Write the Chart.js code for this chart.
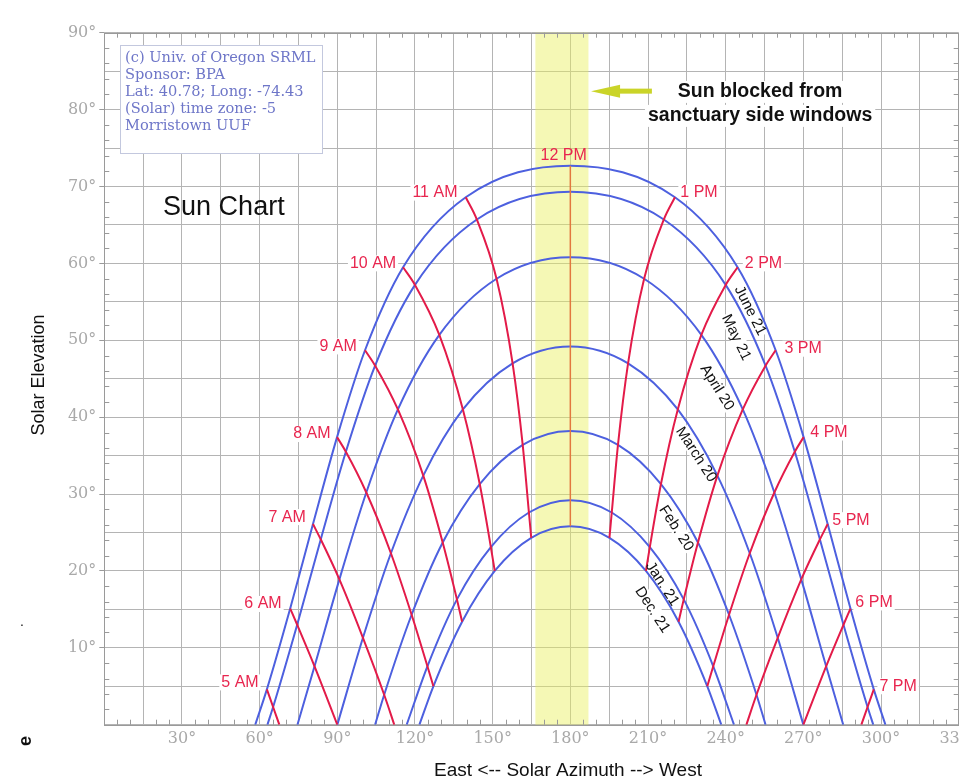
<!DOCTYPE html>
<html>
<head>
<meta charset="utf-8">
<script src="https://cdn.jsdelivr.net/npm/chart.js@4.4.1/dist/chart.umd.min.js"></script>
<style>
html,body{margin:0;padding:0;background:#fff;overflow:hidden;}
#wrap{width:959px;height:783px;overflow:hidden;position:relative;background:#fff;}
canvas{display:block;}
</style>
</head>
<body>
<div id="wrap"><canvas id="c" width="1000" height="783"></canvas></div>
<script>
// ---------- categories ----------
const dateNames = ['June 21','May 21','April 20','March 20','Feb. 20','Jan. 21','Dec. 21'];
const hourNames = ['5 AM','6 AM','7 AM','8 AM','9 AM','10 AM','11 AM','12 PM','1 PM','2 PM','3 PM','4 PM','5 PM','6 PM','7 PM'];

// ---------- tick labels ----------
const xTickValues = [30,60,90,120,150,180,210,240,270,300,330];
const yTickValues = [10,20,30,40,50,60,70,80,90];

// ---------- sun positions (azimuth / elevation, degrees) ----------
// one entry per hour 5 AM .. 7 PM, null = sun below horizon
const june21Az = [62.8,71.8,80.6,89.9,100.7,115.4,139.6,180,220.4,244.6,259.3,270.1,279.4,288.2,297.2];
const june21El = [4.6,15.1,26.1,37.4,48.7,59.5,68.6,72.7,68.6,59.5,48.7,37.4,26.1,15.1,4.6];
const may21Az  = [65.2,74.5,83.6,93.3,104.6,120.0,143.9,180,216.1,240.0,255.4,266.7,276.4,285.5,294.8];
const may21El  = [2.3,13.0,24.1,35.5,46.7,57.2,65.7,69.3,65.7,57.2,46.7,35.5,24.1,13.0,2.3];
const apr20Az  = [null,81.2,90.8,101.2,113.4,129.4,151.5,180,208.5,230.6,246.6,258.8,269.2,278.8,null];
const apr20El  = [null,7.6,18.9,30.2,41.0,50.7,58.0,60.8,58.0,50.7,41.0,30.2,18.9,7.6,null];
const mar20Az  = [null,90.0,99.9,110.7,123.2,138.5,157.7,180,202.3,221.5,236.8,249.3,260.1,270.0,null];
const mar20El  = [null,0,11.3,22.3,32.4,41.0,47.0,49.2,47.0,41.0,32.4,22.3,11.3,0,null];
const feb20Az  = [null,null,108.1,118.7,130.7,145.0,161.6,180,198.4,215.0,229.3,241.3,251.9,null,null];
const feb20El  = [null,null,3.9,14.3,23.7,31.3,36.4,38.2,36.4,31.3,23.7,14.3,3.9,null,null];
const jan21Az  = [null,null,null,124.8,136.2,149.3,164.0,180,196.0,210.7,223.8,235.2,null,null,null];
const jan21El  = [null,null,null,7.6,16.3,23.1,27.6,29.2,27.6,23.1,16.3,7.6,null,null,null];
const dec21Az  = [null,null,null,127.1,138.2,150.8,164.9,180,195.1,209.2,221.8,232.9,null,null,null];
const dec21El  = [null,null,null,5.0,13.4,20.0,24.3,25.8,24.3,20.0,13.4,5.0,null,null,null];
// sunrise / sunset azimuths per date
const sunriseAz = [58.3,63.0,74.6,90.0,104.6,116.8,121.7];
const sunsetAz  = [301.7,297.0,285.4,270.0,255.4,243.2,238.3];
// where an hour line runs into the horizon (azimuth), per hour
const hourHorizonAz = [67.6,null,112.0,null,null,null,null,null,null,null,null,null,248.0,null,292.4];
// azimuth range of the blocked band
const blockedAz = [166.5,187.0];

const dateAz = [june21Az,may21Az,apr20Az,mar20Az,feb20Az,jan21Az,dec21Az];
const dateEl = [june21El,may21El,apr20El,mar20El,feb20El,jan21El,dec21El];

// ---------- annotation placement (data coordinates) ----------
const hourLabelSpots = [[52.4,5.5],[61.3,15.7],[70.6,27.0],[80.2,37.8],[90.3,49.2],[103.8,60.0],[127.7,69.2],[177.4,74.05],
  [229.7,69.2],[254.6,60.0],[269.9,48.9],[279.9,38.0],[288.4,26.6],[297.3,15.9],[306.6,5.0]];
const dateLabelSpots = [[249.8,53.9,63],[244.4,50.4,64],[237.0,43.9,58],[228.9,35.2,57],[221.2,25.6,57],[215.8,18.4,57],[212.0,15.0,57]];
const infoLines = ['(c) Univ. of Oregon SRML','Sponsor: BPA','Lat: 40.78; Long: -74.43','(Solar) time zone: -5','Morristown UUF'];
const noteLines = ['Sun blocked from','sanctuary side windows'];

// ---------- styles ----------
const BLUE = '#4d60df';
const RED = '#e31b49';
const LABEL_RED = '#e8264f';
const SANS = '"Liberation Sans", Arial, sans-serif';
const SERIF = '"DejaVu Serif", serif';

// ---------- build datasets ----------
const datasets = [];
// hour lines (first = drawn on top)
hourNames.forEach((name, h) => {
  const pts = [];
  for (let d = 0; d < dateAz.length; d++) {
    if (dateAz[d][h] !== null) pts.push({x: dateAz[d][h], y: dateEl[d][h]});
  }
  if (hourHorizonAz[h] !== null) pts.push({x: hourHorizonAz[h], y: 0});
  pts.sort((a, b) => a.x - b.x);
  const noon = (h === 7);
  datasets.push({
    label: name, data: pts, showLine: true, pointRadius: 0,
    borderColor: noon ? '#e2783e' : RED, borderWidth: noon ? 1.5 : 2,
    cubicInterpolationMode: noon ? 'default' : 'monotone', tension: 0, fill: false
  });
});
// date curves
dateNames.forEach((name, d) => {
  const pts = [];
  const az = dateAz[d], el = dateEl[d];
  const idx = az.map((v, i) => v === null ? -1 : i).filter(i => i >= 0);
  if (sunriseAz[d] < az[idx[0]]) pts.push({x: sunriseAz[d], y: 0});
  idx.forEach(i => pts.push({x: az[i], y: el[i]}));
  if (sunsetAz[d] > az[idx[idx.length - 1]]) pts.push({x: sunsetAz[d], y: 0});
  datasets.push({
    label: name, data: pts, showLine: true, pointRadius: 0,
    borderColor: BLUE, borderWidth: 2, cubicInterpolationMode: 'monotone', fill: false
  });
});

// ---------- decoration plugin ----------
const decor = {
  id: 'sunDecor',
  beforeDatasetsDraw(chart) {
    const {ctx, chartArea: a, scales: {x, y}} = chart;
    ctx.save();
    ctx.fillStyle = '#fff';
    // white backing behind hour labels
    ctx.font = '16px ' + SANS;
    hourNames.forEach((t, i) => {
      if (i === 7) return;
      const px = x.getPixelForValue(hourLabelSpots[i][0]);
      const py = y.getPixelForValue(hourLabelSpots[i][1]);
      const w = ctx.measureText(t).width;
      ctx.fillRect(px - w / 2 - 2, py - 8, w + 4, 16);
    });
    // white backing behind date labels
    ctx.font = '15px ' + SANS;
    dateNames.forEach((t, i) => {
      const s = dateLabelSpots[i];
      ctx.save();
      ctx.translate(x.getPixelForValue(s[0]), y.getPixelForValue(s[1]));
      ctx.rotate(s[2] * Math.PI / 180);
      const w = ctx.measureText(t).width;
      ctx.fillRect(-w / 2 - 1, -7, w + 2, 14);
      ctx.restore();
    });
    // note backing
    ctx.font = 'bold 19.5px ' + SANS;
    noteLines.forEach((t, i) => {
      const px = x.getPixelForValue(253.3);
      const py = y.getPixelForValue(82.3) + i * 24;
      const w = ctx.measureText(t).width;
      ctx.fillRect(px - w / 2 - 3, py - 11, w + 6, 22);
    });
    // info box
    const bx0 = x.getPixelForValue(6.1), bx1 = x.getPixelForValue(84.1);
    const by0 = y.getPixelForValue(88.4), by1 = y.getPixelForValue(74.3);
    ctx.fillStyle = '#fff';
    ctx.fillRect(bx0, by0, bx1 - bx0, by1 - by0);
    ctx.strokeStyle = '#c3c8de';
    ctx.lineWidth = 1;
    ctx.strokeRect(Math.round(bx0) + 0.5, Math.round(by0) + 0.5, Math.round(bx1 - bx0), Math.round(by1 - by0));
    ctx.fillStyle = '#6e76c8';
    ctx.font = '14.6px ' + SERIF;
    ctx.textBaseline = 'middle';
    ctx.textAlign = 'left';
    infoLines.forEach((t, i) => {
      ctx.fillText(t, x.getPixelForValue(8.0), y.getPixelForValue(86.7) + i * 17);
    });
    // blocked band
    const x0 = x.getPixelForValue(blockedAz[0]), x1 = x.getPixelForValue(blockedAz[1]);
    ctx.fillStyle = 'rgba(232,240,90,0.45)';
    ctx.fillRect(x0, a.top, x1 - x0, a.bottom - a.top);
    ctx.restore();
  },
  afterDatasetsDraw(chart) {
    const {ctx, scales: {x, y}} = chart;
    ctx.save();
    ctx.textAlign = 'center';
    ctx.textBaseline = 'middle';
    // hour labels
    ctx.fillStyle = LABEL_RED;
    ctx.font = '16px ' + SANS;
    hourNames.forEach((t, i) => {
      ctx.fillText(t, x.getPixelForValue(hourLabelSpots[i][0]), y.getPixelForValue(hourLabelSpots[i][1]));
    });
    // date labels
    ctx.fillStyle = '#111';
    ctx.font = '15px ' + SANS;
    dateNames.forEach((t, i) => {
      const s = dateLabelSpots[i];
      ctx.save();
      ctx.translate(x.getPixelForValue(s[0]), y.getPixelForValue(s[1]));
      ctx.rotate(s[2] * Math.PI / 180);
      ctx.fillText(t, 0, 1);
      ctx.restore();
    });
    // title
    ctx.textAlign = 'left';
    ctx.font = '27px ' + SANS;
    ctx.fillText('Sun Chart', x.getPixelForValue(22.7), y.getPixelForValue(67.3));
    // note
    ctx.textAlign = 'center';
    ctx.font = 'bold 19.5px ' + SANS;
    noteLines.forEach((t, i) => {
      ctx.fillText(t, x.getPixelForValue(253.3), y.getPixelForValue(82.3) + i * 24);
    });
    // arrow
    const tipX = x.getPixelForValue(188.0), tailX = x.getPixelForValue(211.5), ay = y.getPixelForValue(82.4);
    ctx.fillStyle = 'rgb(202,212,40)';
    ctx.fillRect(tipX + 26, ay - 2.5, tailX - tipX - 26, 5);
    ctx.beginPath();
    ctx.moveTo(tipX, ay);
    ctx.lineTo(tipX + 29, ay - 6.5);
    ctx.lineTo(tipX + 29, ay + 6.5);
    ctx.closePath();
    ctx.fill();
    ctx.restore();
  },
  afterDraw(chart) {
    const {ctx, chartArea: a, scales: {x, y}} = chart;
    ctx.save();
    ctx.strokeStyle = '#9a9a9a';
    ctx.lineWidth = 1;
    // minor ticks
    ctx.beginPath();
    for (let v = 5; v < 330; v += 5) {
      if (v % 15 === 0) continue;
      const px = Math.round(x.getPixelForValue(v)) + 0.5;
      ctx.moveTo(px, a.top); ctx.lineTo(px, a.top + 5);
      ctx.moveTo(px, a.bottom); ctx.lineTo(px, a.bottom - 5);
    }
    for (let v = 2; v < 90; v += 2) {
      if (v % 5 === 0) continue;
      const py = Math.round(y.getPixelForValue(v)) + 0.5;
      ctx.moveTo(a.left, py); ctx.lineTo(a.left + 5, py);
      ctx.moveTo(a.right, py); ctx.lineTo(a.right - 5, py);
    }
    ctx.stroke();
    // frame
    ctx.strokeRect(Math.round(a.left) + 0.5, Math.round(a.top) + 0.5, Math.round(a.right - a.left), Math.round(a.bottom - a.top));
    // axis titles
    ctx.fillStyle = '#111';
    ctx.textAlign = 'center';
    ctx.textBaseline = 'middle';
    ctx.font = '19px ' + SANS;
    ctx.fillText('East <-- Solar Azimuth --> West', 568, 771);
    ctx.save();
    ctx.translate(39, 375);
    ctx.rotate(-Math.PI / 2);
    ctx.font = '18px ' + SANS;
    ctx.fillText('Solar Elevation', 0, 0);
    ctx.restore();
    ctx.save();
    ctx.translate(26, 741);
    ctx.rotate(-Math.PI / 2);
    ctx.font = 'bold 18px ' + SANS;
    ctx.fillText('e', 0, 0);
    ctx.restore();
    ctx.font = '14px ' + SANS;
    ctx.fillText('.', 22, 622);
    ctx.restore();
  }
};

new Chart(document.getElementById('c'), {
  type: 'scatter',
  data: {datasets},
  plugins: [decor],
  options: {
    responsive: false,
    animation: false,
    devicePixelRatio: 1,
    events: [],
    layout: {padding: {left: 0, top: 32.7, right: 41.3, bottom: 0}},
    plugins: {legend: {display: false}, tooltip: {enabled: false}},
    scales: {
      x: {
        type: 'linear', min: 0, max: 330,
        afterFit: s => { s.height = 58.3; },
        ticks: {
          stepSize: 15, autoSkip: false, maxRotation: 0, minRotation: 0, padding: 5,
          color: '#a9a9a9', font: {family: SERIF, size: 16},
          callback: v => xTickValues.includes(v) ? v + '°' : ''
        },
        grid: {color: '#b4b4b4', lineWidth: 1, drawTicks: false},
        border: {display: false}
      },
      y: {
        type: 'linear', min: 0, max: 90,
        afterFit: s => { s.width = 104.3; },
        ticks: {
          stepSize: 5, autoSkip: false, padding: 3,
          color: '#a9a9a9', font: {family: SERIF, size: 16},
          callback: v => yTickValues.includes(v) ? v + '°' : ''
        },
        grid: {
          color: '#b4b4b4', lineWidth: 1, drawTicks: true, tickLength: 5,
          tickColor: c => (c.tick && yTickValues.includes(c.tick.value)) ? '#9a9a9a' : 'rgba(0,0,0,0)'
        },
        border: {display: false}
      }
    }
  }
});
</script>
</body>
</html>
